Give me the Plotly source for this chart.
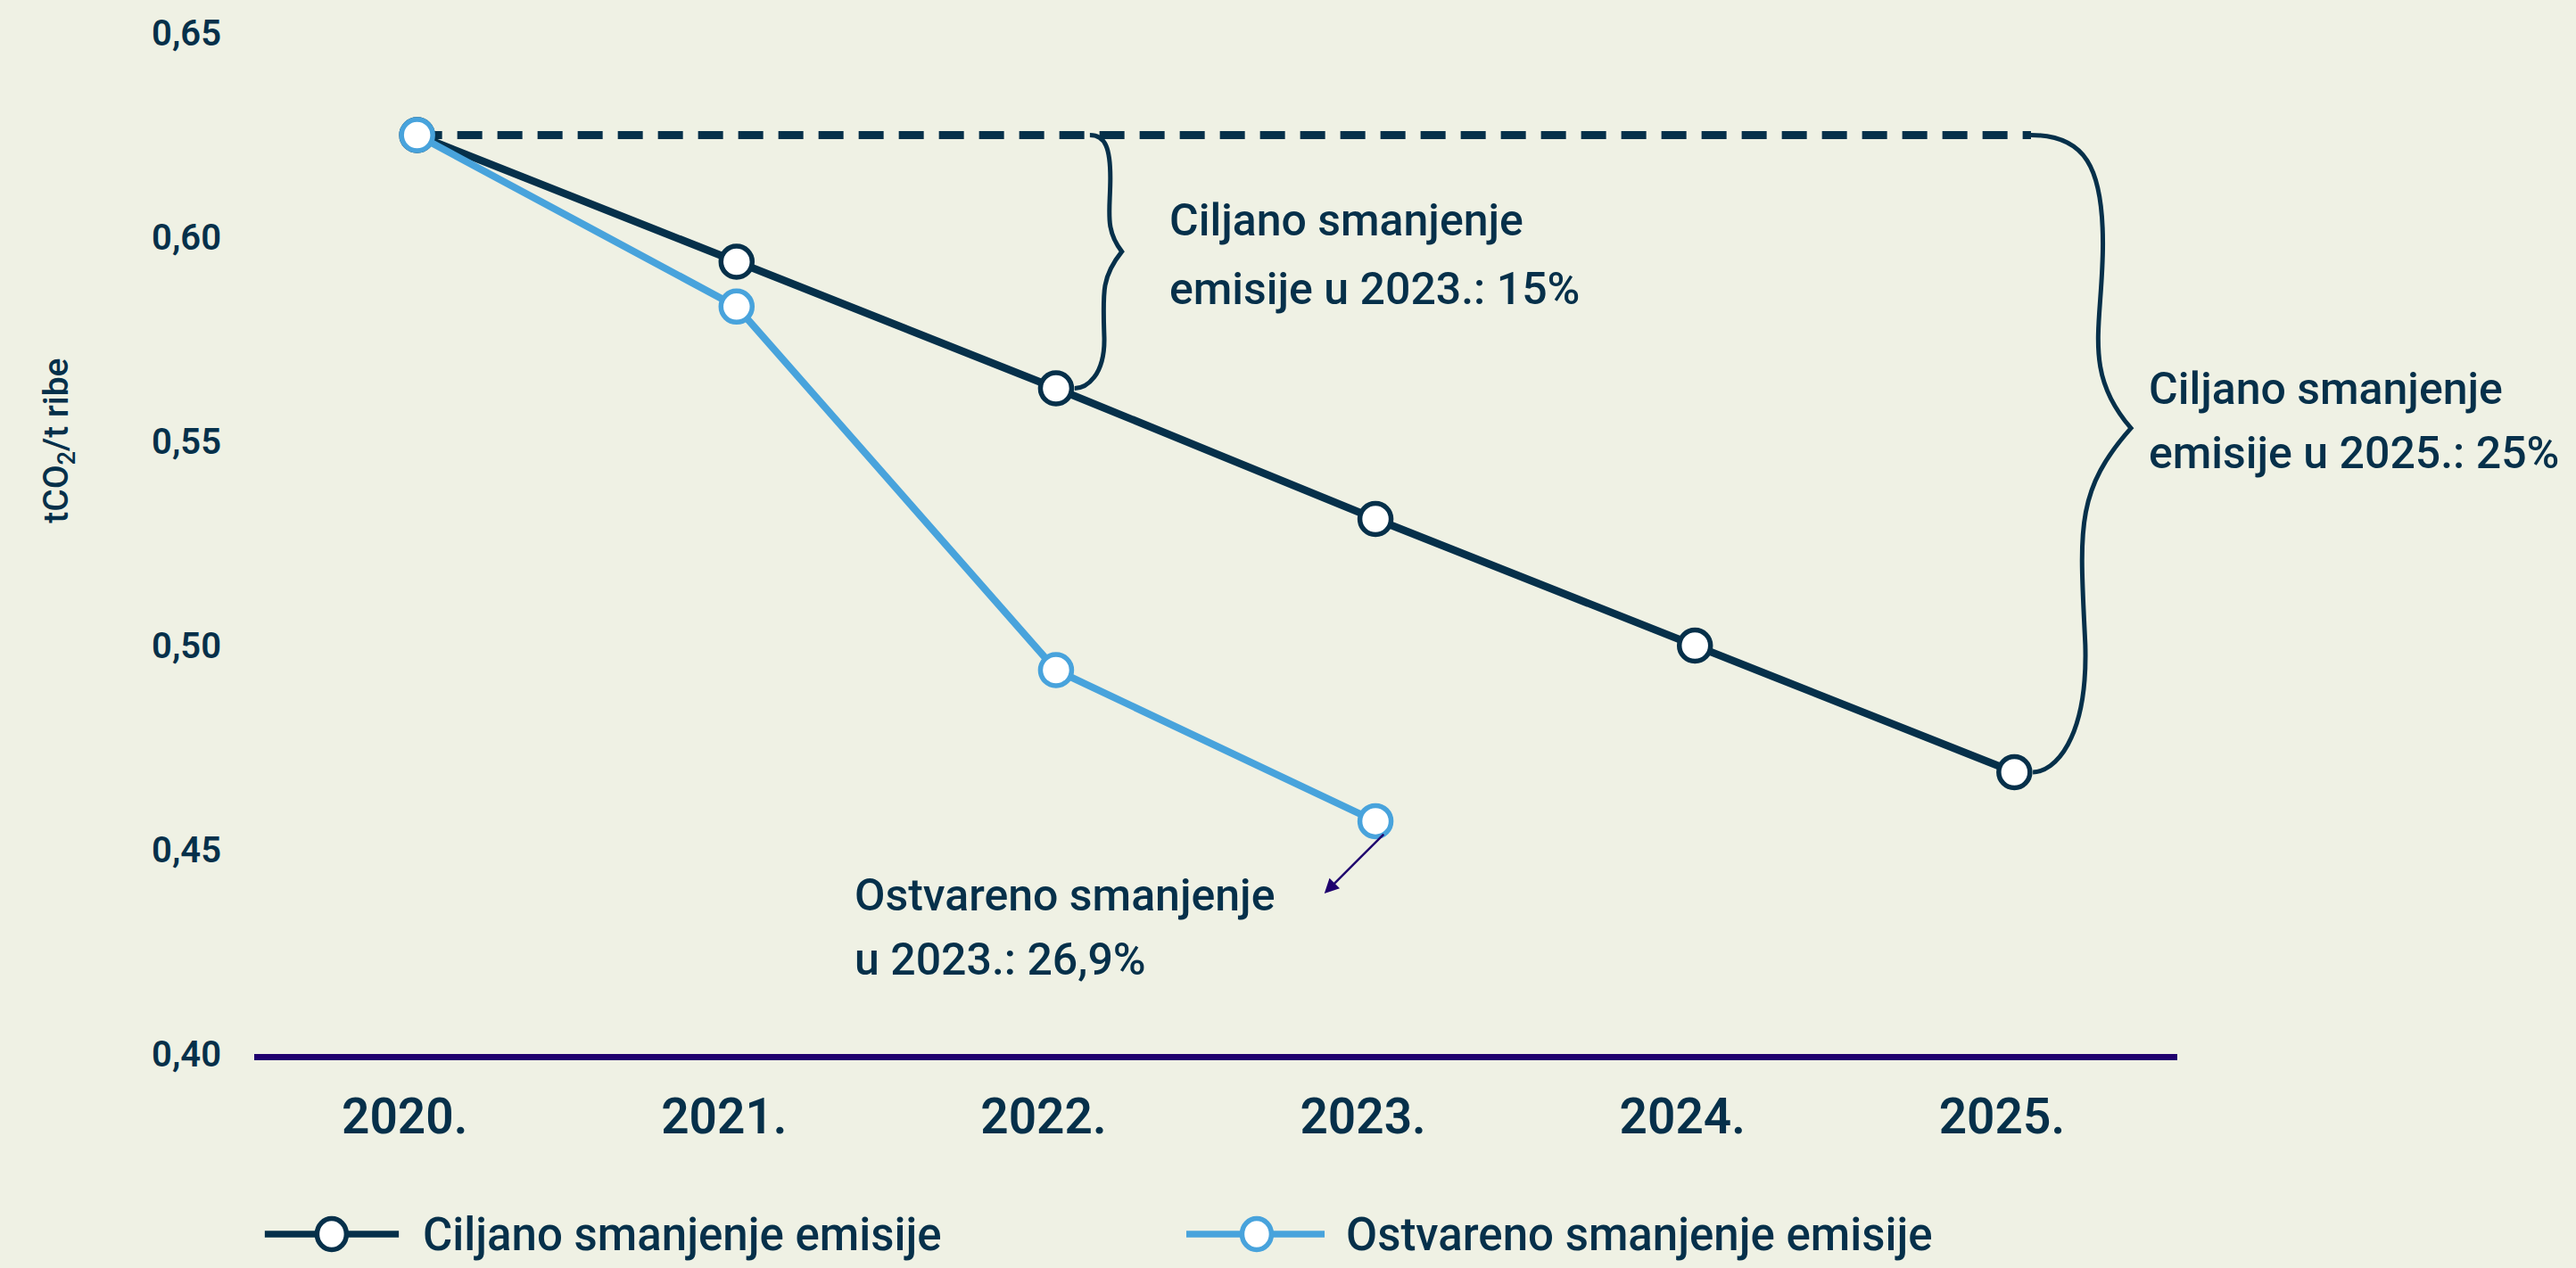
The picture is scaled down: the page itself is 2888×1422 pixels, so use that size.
import plotly.graph_objects as go

# ---- data -------------------------------------------------------------
years = [2020, 2021, 2022, 2023, 2024, 2025]
year_labels = ["2020.", "2021.", "2022.", "2023.", "2024.", "2025."]
target = [0.625, 0.594, 0.563, 0.531, 0.500, 0.469]      # Ciljano smanjenje emisije
actual_years = [2020, 2021, 2022, 2023]
actual = [0.625, 0.583, 0.494, 0.457]                     # Ostvareno smanjenje emisije
y_ticks = [0.40, 0.45, 0.50, 0.55, 0.60, 0.65]

series_names = ["Ciljano smanjenje emisije", "Ostvareno smanjenje emisije"]
note_2023 = ["Ciljano smanjenje", "emisije u 2023.: 15%"]
note_2025 = ["Ciljano smanjenje", "emisije u 2025.: 25%"]
note_actual = ["Ostvareno smanjenje", "u 2023.: 26,9%"]
y_title = "tCO<sub>2</sub>/t ribe"

# ---- style ------------------------------------------------------------
NAVY = "#06304a"
BLUE = "#48a3dc"
PURPLE = "#1f006e"
BG = "#eff1e4"
FONT = "Roboto, Inter, sans-serif"

W, H = 2888, 1422
ML, MR, MT, MB = 285, 447, 37, 240
X_RANGE = [2019.49, 2025.51]

LINE_W = 8.5
MARKER = dict(size=35, color="white")
RING_W = 5.5


def brace_path(x_top, x_bot, y_top, y_bot, s_up, s_low, tip, mid=0.46):
    """Curly brace opening to the left, pointing right, in data units."""
    h = y_top - y_bot

    def Y(f):
        return y_top - f * h

    xu = x_top + s_up
    xl = x_top + s_low
    xt = x_top + tip
    p = [
        f"M{x_top},{Y(0)}",
        f"C{x_top + 0.75 * s_up},{Y(0)} {xu},{Y(0.05)} {xu},{Y(0.17)}",
        f"C{xu},{Y(0.30)} {xu - 0.3 * s_up},{Y(mid - 0.09)} {xt},{Y(mid)}",
        f"C{xl - 0.2 * s_low},{Y(mid + 0.10)} {xl - 0.1 * s_low},{Y(0.62)} {xl},{Y(0.80)}",
        f"C{xl + 0.05 * s_low},{Y(0.95)} {x_bot + 0.4 * (xl - x_bot)},{Y(1)} {x_bot},{Y(1)}",
    ]
    return " ".join(p)


fig = go.Figure()

fig.add_trace(go.Scatter(
    x=years, y=target, name=series_names[0], mode="lines+markers",
    line=dict(color=NAVY, width=LINE_W),
    marker=dict(**MARKER, line=dict(color=NAVY, width=RING_W)),
    cliponaxis=False, showlegend=False,
))
fig.add_trace(go.Scatter(
    x=actual_years, y=actual, name=series_names[1], mode="lines+markers",
    line=dict(color=BLUE, width=LINE_W - 0.5),
    marker=dict(**MARKER, line=dict(color=BLUE, width=RING_W)),
    cliponaxis=False, showlegend=False,
))

# baseline level (2020) carried forward as a dashed reference
right_brace_x = years[5] + 0.052
left_brace_x = years[2] + 0.106
shapes = [
    dict(type="line", xref="x", yref="y", x0=years[0], x1=right_brace_x,
         y0=target[0], y1=target[0], layer="below",
         line=dict(color=NAVY, width=9, dash="28px,17px")),
    dict(type="path", xref="x", yref="y", layer="below",
         path=brace_path(left_brace_x, years[2] + 0.058, target[0], target[2],
                         0.064, 0.045, 0.10),
         line=dict(color=NAVY, width=5)),
    dict(type="path", xref="x", yref="y", layer="below",
         path=brace_path(right_brace_x, years[5] + 0.058, target[0], target[5],
                         0.225, 0.17, 0.313),
         line=dict(color=NAVY, width=5)),
]

# custom legend below the axis (long line keys with ring markers)
leg_y = (1182 - 1384) / 1145
legend_items = [
    (series_names[0], NAVY, 0.0055, 0.0752, 0.0403, 0.0867),
    (series_names[1], BLUE, 0.4847, 0.5566, 0.5213, 0.5668),
]
annotations = []
for name, col, lx0, lx1, mx, tx in legend_items:
    shapes.append(dict(type="line", xref="paper", yref="paper", x0=lx0, x1=lx1,
                       y0=leg_y, y1=leg_y, line=dict(color=col, width=7.5)))
    shapes.append(dict(type="circle", xref="paper", yref="paper",
                       xsizemode="pixel", ysizemode="pixel",
                       xanchor=mx, yanchor=leg_y, x0=-16.5, x1=16.5, y0=-17.5, y1=17.5,
                       fillcolor="white", line=dict(color=col, width=5.5)))
    annotations.append(dict(xref="paper", yref="paper", x=tx, y=leg_y,
                            xanchor="left", yanchor="middle", showarrow=False,
                            text=name, font=dict(size=51, color=NAVY, family=FONT, weight=500)))

note_font = dict(size=50, color=NAVY, family=FONT, weight=500)
for (x, ys, lines) in [
    (2022.349, (0.6041, 0.5873), note_2023),
    (2025.415, (0.5629, 0.5472), note_2025),
    (2021.364, (0.4389, 0.4231), note_actual),
]:
    for yy, t in zip(ys, lines):
        annotations.append(dict(xref="x", yref="y", x=x, y=yy, text=t,
                                xanchor="left", yanchor="middle",
                                showarrow=False, font=note_font))

# pointer from the 2023 actual value toward its note
annotations.append(dict(xref="x", yref="y", x=2022.84, y=0.4393, text="",
                        showarrow=True, ax=68, ay=-68, arrowhead=2,
                        arrowsize=1.3, arrowwidth=2.5, arrowcolor=PURPLE))

# vertical axis title
annotations.append(dict(xref="paper", yref="paper", x=-0.1016, y=0.601,
                        text=y_title, textangle=-90, showarrow=False,
                        xanchor="center", yanchor="middle",
                        font=dict(size=39, color=NAVY, family=FONT, weight=500)))

fig.update_layout(
    width=W, height=H,
    margin=dict(l=ML, r=MR, t=MT, b=MB),
    paper_bgcolor=BG, plot_bgcolor=BG,
    separators=",.",
    font=dict(family=FONT, color=NAVY),
    shapes=shapes, annotations=annotations,
    showlegend=False,
)
fig.update_xaxes(
    range=X_RANGE, tickvals=years, ticktext=year_labels,
    showgrid=False, zeroline=False, ticks="",
    showline=True, linecolor=PURPLE, linewidth=7,
    tickfont=dict(size=55, color=NAVY, family=FONT, weight=600),
    ticklabelstandoff=16, ticklabelshift=-14,
)
fig.update_yaxes(
    range=[y_ticks[0], y_ticks[-1]], tickvals=y_ticks, tickformat=".2f",
    showgrid=False, zeroline=False, ticks="", showline=False,
    tickfont=dict(size=40, color=NAVY, family=FONT, weight=600),
    ticklabelstandoff=36,
)

fig.write_html("out.html")
